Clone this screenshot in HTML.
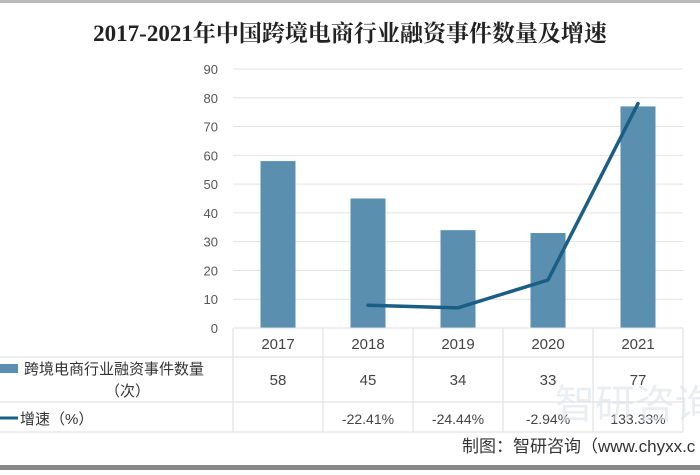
<!DOCTYPE html>
<html><head><meta charset="utf-8"><style>
body{margin:0;background:#fff;}
svg text{font-family:"Liberation Sans","Noto Sans CJK SC",sans-serif;}
</style></head><body>
<svg width="700" height="470" viewBox="0 0 700 470">
<rect x="0" y="0" width="700" height="3" fill="#bbb"/>
<rect x="0" y="465" width="700" height="5" fill="#888"/>
<text x="350" y="41" text-anchor="middle" font-size="23" font-weight="bold" fill="#222" style="font-family:'Liberation Serif','Noto Serif CJK SC',serif">2017-2021年中国跨境电商行业融资事件数量及增速</text>
<g id="grid"></g><g id="bars"></g><g id="line"></g><g id="table"></g>
<text x="555" y="418" font-size="40" fill="#dde3ea" opacity="0.6">智研咨询</text>
<text x="462" y="452" font-size="17" fill="#333">制图：智研咨询（www.chyxx.c</text>
</svg>
<script>
const categories=["2017","2018","2019","2020","2021"];
const counts=[58,45,34,33,77];
const growth=[null,-22.41,-24.44,-2.94,133.33];
const growthLabels=["","-22.41%","-24.44%","-2.94%","133.33%"];
const yTicks=[0,10,20,30,40,50,60,70,80,90];
const NS="http://www.w3.org/2000/svg";
const L=233,R=683,T=69,B=328,yMax=90,y2Min=-40,y2Max=160;
const bw=(R-L)/categories.length;
const y=v=>B-(v/yMax)*(B-T);
const y2=v=>B-(v-y2Min)/(y2Max-y2Min)*(B-T);
const x=i=>L+bw*(i+0.5);
function mk(tag,attrs,parent,txt){const e=document.createElementNS(NS,tag);for(const k in attrs)e.setAttribute(k,attrs[k]);if(txt!==undefined)e.textContent=txt;document.getElementById(parent).appendChild(e);return e;}
yTicks.forEach(t=>{
  const g=mk('line',{x1:L,x2:R,y1:y(t),y2:y(t),stroke:'#e3e3e3','stroke-width':1},'grid');
  
  
  const tx=mk('text',{x:218,y:y(t)+5,'text-anchor':'end','font-size':13,fill:'#555'},'grid',t);
  
  
});
counts.forEach((v,i)=>{
  const b=mk('rect',{x:x(i)-17.5,y:y(v),width:35,height:B-y(v),fill:'#5a8fb0'},'bars');
  
  
});
let d='';growth.forEach((v,i)=>{if(v!==null)d+=(d?'L':'M')+x(i)+' '+y2(v);});
const p=mk('path',{d:d,fill:'none',stroke:'#1a5e86','stroke-width':3.5,'stroke-linejoin':'round','stroke-linecap':'round'},'line');


const rows=[328,357,402,432];
rows.forEach((ry,k)=>{const l=mk('line',{x1:k==0?L:0,x2:R,y1:ry,y2:ry,stroke:'#ddd'},'table');

});
for(let i=0;i<=categories.length;i++){const l=mk('line',{x1:L+bw*i,x2:L+bw*i,y1:328,y2:432,stroke:'#ddd'},'table');

}
categories.forEach((c,i)=>{
  const a=mk('text',{x:x(i),y:349,'text-anchor':'middle','font-size':15,fill:'#444'},'table',c);
  
  
  const b=mk('text',{x:x(i),y:385,'text-anchor':'middle','font-size':15,fill:'#444'},'table',counts[i]);
  
  
  const g=mk('text',{x:x(i),y:424,'text-anchor':'middle','font-size':14,fill:'#444'},'table',growthLabels[i]);
  
  
});
const s1=mk('rect',{x:0,y:364,width:18,height:9,fill:'#5a8fb0'},'table');


const t1=mk('text',{x:24,y:374,'font-size':15,fill:'#333'},'table','跨境电商行业融资事件数量');


const t1b=mk('text',{x:105,y:396,'font-size':15,fill:'#333'},'table','（次）');


const s2=mk('line',{x1:0,x2:18,y1:418,y2:418,stroke:'#1a5e86','stroke-width':3},'table');


const t2=mk('text',{x:20,y:424,'font-size':15,fill:'#333'},'table','增速（%）');


</script>
</body></html>
